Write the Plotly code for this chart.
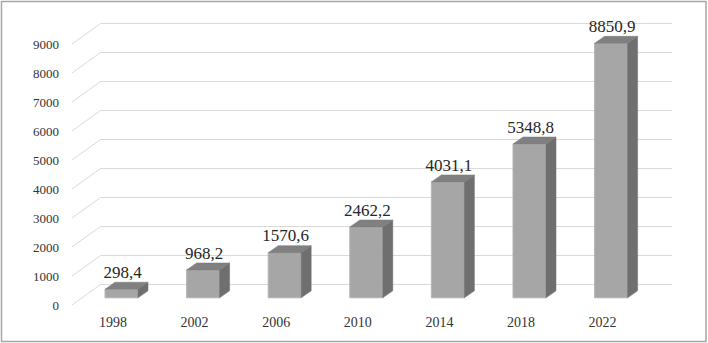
import plotly.graph_objects as go

# ---- data ----
years = ["1998", "2002", "2006", "2010", "2014", "2018", "2022"]
values = [298.4, 968.2, 1570.6, 2462.2, 4031.1, 5348.8, 8850.9]
value_labels = ["298,4", "968,2", "1570,6", "2462,2", "4031,1", "5348,8", "8850,9"]
tick_values = [0, 1000, 2000, 3000, 4000, 5000, 6000, 7000, 8000, 9000]
tick_labels = [str(v) for v in tick_values]

# ---- geometry (pixel styling constants) ----
W, H = 708, 343
L, R, T, B = 72, 700, 10, 312          # plot area in px
PX_CAT = 81.6                           # px between categories
X0_PX = 121.5                           # px of first bar centre
PX_PER_UNIT = 0.02875                   # px per value unit (bars)
WALL_PX_PER_UNIT = 0.029                # px per value unit (walls / labels)
Y0_PX = 297.8                           # px of bar base

def ux(px):
    return px / PX_CAT

def uy(px):
    return px / PX_PER_UNIT

xr = [(L - X0_PX) / PX_CAT, (R - X0_PX) / PX_CAT]
yr = [(Y0_PX - B) / PX_PER_UNIT, (Y0_PX - T) / PX_PER_UNIT]

idx = list(range(len(years)))
bw = ux(33)          # bar width
ddx = ux(10)         # depth shift x
ddy = uy(7)          # depth shift y

def front_y(v):      # front edge of floor / side wall
    return (Y0_PX - (305 - WALL_PX_PER_UNIT * v)) / PX_PER_UNIT

def back_y(v):       # back wall
    return (Y0_PX - (284.5 - WALL_PX_PER_UNIT * v)) / PX_PER_UNIT

x_wall_front = xr[0]
x_wall_back = xr[0] + ux(28.5)
x_wall_end = (672 - X0_PX) / PX_CAT

FONT = "Liberation Serif"

fig = go.Figure()

# gridlines: side wall diagonal + back wall horizontal
gx, gy = [], []
for v in tick_values:
    gx += [x_wall_front, x_wall_back, x_wall_end, None]
    gy += [front_y(v), back_y(v), back_y(v), None]
fig.add_trace(go.Scatter(x=gx, y=gy, mode="lines",
                         line=dict(color="#d9d9d9", width=1),
                         hoverinfo="skip", showlegend=False, zorder=0))

# front faces
fig.add_trace(go.Bar(x=idx, y=values, width=bw,
                     marker=dict(color="#a6a6a6", line=dict(color="#b4b4b4", width=1)),
                     showlegend=False, zorder=1))

# side faces
sx, sy = [], []
for i, v in zip(idx, values):
    xr_ = i + bw / 2
    sx += [xr_, xr_ + ddx, xr_ + ddx, xr_, xr_, None]
    sy += [0, ddy, v + ddy, v, 0, None]
fig.add_trace(go.Scatter(x=sx, y=sy, mode="lines", fill="toself",
                         fillcolor="#6f6f6f", line=dict(color="#6f6f6f", width=0.5),
                         hoverinfo="skip", showlegend=False, zorder=2))

# top faces
tx, ty = [], []
for i, v in zip(idx, values):
    xl_ = i - bw / 2
    xr_ = i + bw / 2
    tx += [xl_, xl_ + ddx, xr_ + ddx, xr_, xl_, None]
    ty += [v, v + ddy, v + ddy, v, v, None]
fig.add_trace(go.Scatter(x=tx, y=ty, mode="lines", fill="toself",
                         fillcolor="#808080", line=dict(color="#7a7a7a", width=0.5),
                         hoverinfo="skip", showlegend=False, zorder=2))

# value labels
fig.add_trace(go.Scatter(x=[i + ux(1) for i in idx], y=[v + ddy for v in values],
                         mode="text", text=value_labels, textposition="top center",
                         textfont=dict(family=FONT, size=17, color="#262626"),
                         cliponaxis=False, hoverinfo="skip", showlegend=False, zorder=3))

fig.update_layout(
    width=W, height=H,
    margin=dict(l=L, r=W - R, t=T, b=H - B, autoexpand=False),
    paper_bgcolor="white", plot_bgcolor="white",
    font=dict(family=FONT, color="#333333"),
    xaxis=dict(range=xr, showgrid=False, zeroline=False, showline=False,
               tickvals=[i - ux(8.5) for i in idx], ticktext=years, ticks="",
               tickfont=dict(family=FONT, size=14, color="#333333")),
    yaxis=dict(range=yr, showgrid=False, zeroline=False, showline=False,
               tickvals=[front_y(v) for v in tick_values], ticktext=tick_labels,
               ticks="", ticklabelstandoff=12,
               tickfont=dict(family=FONT, size=13, color="#333333")),
    shapes=[dict(type="rect", xref="paper", yref="paper",
                 x0=(1.5 - L) / (R - L), x1=(706 - L) / (R - L),
                 y0=(B - 341.5) / (B - T), y1=(B - 1.5) / (B - T),
                 line=dict(color="#a6a6a6", width=1.5), layer="below")],
)

fig.write_html("out.html",
               config={"displayModeBar": False, "staticPlot": True},
               post_script="document.body.style.margin='0px';document.body.style.overflow='hidden';")
